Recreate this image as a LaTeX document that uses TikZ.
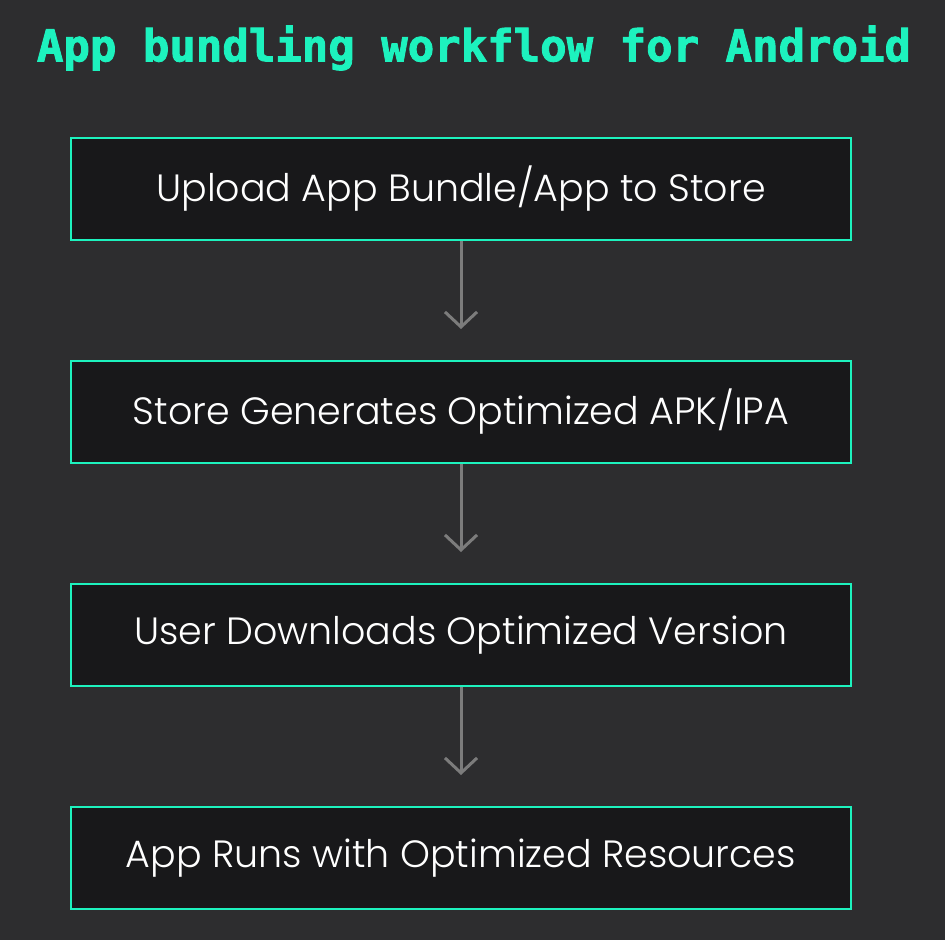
\documentclass[tikz,border=0pt]{standalone}
\usepackage{fontspec}
\setmainfont{Poppins}[UprightFont=* Light]
\newfontfamily\titlefont{DejaVu Sans Mono}[BoldFeatures={FakeBold=2}]
\usetikzlibrary{arrows.meta}
\usetikzlibrary{positioning}
\definecolor{bgdark}{HTML}{2D2D2F}
\definecolor{boxdark}{HTML}{18181A}
\definecolor{mint}{HTML}{1DF2BE}
\definecolor{arrowgray}{HTML}{7C7C7C}
\tikzset{
  stagebox/.style={draw=mint,fill=boxdark,line width=2pt,minimum width=780pt,
    minimum height=102pt,inner sep=0pt,text=white,font=\fontsize{38}{38}\selectfont},
  flowarrow/.style={draw=arrowgray,line width=3pt,shorten >=31pt,
    -{Straight Barb[length=15pt,width=32pt]}}
}

\begin{document}
\begin{tikzpicture}[x=1pt,y=1pt]
      \fill[bgdark] (0,0) rectangle (945,-940);
      \useasboundingbox (0,0) rectangle (945,-940);
      \node[text=mint,font=\titlefont\bfseries\fontsize{44}{44}\selectfont] (title) at (474,-48) {App bundling workflow for Android};
      \foreach \txt [count=\i] in {{Upload App Bundle/App to Store},{Store Generates Optimized APK/IPA},
          {User Downloads Optimized Version},{App Runs with Optimized Resources}} {
        \node[stagebox] (stage\i) at (461, {-189-223*(\i-1)}) {\txt};
      }
      \foreach \i [evaluate=\i as \j using int(\i+1)] in {1,2,3} {
        \draw[flowarrow] (stage\i) -- (stage\j);
      }
    \end{tikzpicture}
\end{document}
